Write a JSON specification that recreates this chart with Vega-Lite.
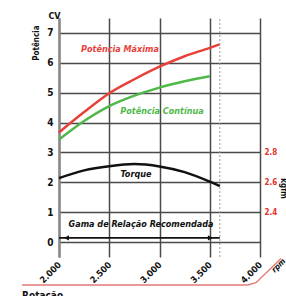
{
  "$schema": "https://vega.github.io/schema/vega-lite/v6.json",
  "width": 201,
  "height": 239,
  "autosize": "none",
  "padding": {"left": 59, "top": 18, "right": 26, "bottom": 39},
  "background": "white",
  "config": {"view": {"stroke": null}, "font": "DejaVu Sans Condensed"},
  "datasets": {
    "power": [
      {"rpm": 2000, "cv": 3.67, "serie": "Potência Máxima"},
      {"rpm": 2250, "cv": 4.35, "serie": "Potência Máxima"},
      {"rpm": 2500, "cv": 4.98, "serie": "Potência Máxima"},
      {"rpm": 2750, "cv": 5.45, "serie": "Potência Máxima"},
      {"rpm": 3000, "cv": 5.87, "serie": "Potência Máxima"},
      {"rpm": 3250, "cv": 6.22, "serie": "Potência Máxima"},
      {"rpm": 3500, "cv": 6.5, "serie": "Potência Máxima"},
      {"rpm": 3600, "cv": 6.62, "serie": "Potência Máxima"},
      {"rpm": 2000, "cv": 3.43, "serie": "Potência Contínua"},
      {"rpm": 2250, "cv": 4.05, "serie": "Potência Contínua"},
      {"rpm": 2500, "cv": 4.55, "serie": "Potência Contínua"},
      {"rpm": 2750, "cv": 4.9, "serie": "Potência Contínua"},
      {"rpm": 3000, "cv": 5.17, "serie": "Potência Contínua"},
      {"rpm": 3250, "cv": 5.38, "serie": "Potência Contínua"},
      {"rpm": 3500, "cv": 5.55, "serie": "Potência Contínua"}
    ],
    "torque": [
      {"rpm": 2000, "t": 2.628},
      {"rpm": 2250, "t": 2.68},
      {"rpm": 2500, "t": 2.708},
      {"rpm": 2750, "t": 2.722},
      {"rpm": 3000, "t": 2.706},
      {"rpm": 3250, "t": 2.668},
      {"rpm": 3500, "t": 2.604},
      {"rpm": 3600, "t": 2.574}
    ],
    "labels": [
      {"rpm": 2607, "cv": 6.46, "text": "Potência Máxima", "color": "#e8413a", "angle": 0, "size": 9},
      {"rpm": 3025, "cv": 4.39, "text": "Potência Contínua", "color": "#4fb848", "angle": 0, "size": 9},
      {"rpm": 2766, "cv": 2.28, "text": "Torque", "color": "#111111", "angle": 0, "size": 9},
      {"rpm": 2816, "cv": 0.6, "text": "Gama de Relação Recomendada", "color": "#111111", "angle": 0, "size": 9},
      {"rpm": 4189, "cv": -0.8, "text": "rpm", "color": "#111111", "angle": 315, "size": 8}
    ],
    "side": [
      {"rpm": 1781, "cv": 6.66, "text": "Potência"}
    ],
    "bottom": [
      {"rpm": 1632, "cv": -1.64, "text": "Rotação"}
    ],
    "limit": [
      {"rpm": 3600, "cv": -0.5, "cv2": 7.5}
    ],
    "arrow": [
      {"rpm": 2000, "rpm2": 3600, "cv": 0.14}
    ],
    "heads": [
      {"rpm": 2075, "cv": 0.14, "shape": "triangle-left"},
      {"rpm": 3505, "cv": 0.14, "shape": "triangle-right"}
    ],
    "deco": [
      {"rpm": 1632, "cv": -1.44, "o": 1},
      {"rpm": 3880, "cv": -1.44, "o": 2},
      {"rpm": 3960, "cv": -1.36, "o": 3},
      {"rpm": 4210, "cv": -0.55, "o": 4}
    ]
  },
  "layer": [
    {
      "encoding": {
        "x": {
          "field": "rpm", "type": "quantitative",
          "scale": {"domain": [2000, 4000], "nice": false, "zero": false},
          "axis": {
            "values": [2000, 2500, 3000, 3500, 4000],
            "grid": true, "gridColor": "#4a4a4a", "gridWidth": 1.5,
            "domain": false, "ticks": false, "labelOverlap": false,
            "labelAngle": -45, "labelAlign": "right", "labelBaseline": "middle",
            "labelFontWeight": "bold", "labelFontSize": 9, "labelPadding": 6, "labelColor": "#111",
            "labelExpr": "replace(format(datum.value, ',d'), ',', '.')",
            "title": null
          }
        },
        "y": {
          "field": "cv", "type": "quantitative",
          "scale": {"domain": [-0.5, 7.5], "nice": false, "zero": false},
          "axis": {
            "values": [0, 1, 2, 3, 4, 5, 6, 7],
            "labelOverlap": false,
            "grid": true, "gridColor": "#4a4a4a", "gridWidth": 1.5,
            "domainColor": "#8a8a8a", "domainWidth": 2.5, "ticks": false,
            "labelFontWeight": "bold", "labelFontSize": 10, "labelPadding": 6, "labelColor": "#111",
            "title": "CV", "titleAngle": 0, "titleAlign": "center", "titleBaseline": "middle",
            "titleX": -5, "titleY": -3, "titleFontSize": 9, "titleFontWeight": "bold", "titleColor": "#111"
          }
        }
      },
      "layer": [
        {
          "data": {"name": "power"},
          "mark": {"type": "line", "strokeWidth": 2.5, "clip": false, "interpolate": "monotone"},
          "encoding": {
            "color": {
              "field": "serie", "type": "nominal",
              "scale": {"domain": ["Potência Máxima", "Potência Contínua"], "range": ["#e8413a", "#4fb848"]},
              "legend": null
            }
          }
        },
        {
          "data": {"name": "limit"},
          "mark": {"type": "rule", "color": "#9a9a9a", "strokeDash": [2, 2], "strokeWidth": 1},
          "encoding": {"y2": {"field": "cv2"}}
        },
        {
          "data": {"name": "arrow"},
          "mark": {"type": "rule", "color": "#111", "strokeWidth": 1.8},
          "encoding": {"x2": {"field": "rpm2"}}
        },
        {
          "data": {"name": "heads"},
          "mark": {"type": "point", "filled": true, "color": "#111", "opacity": 1, "size": 30},
          "encoding": {
            "shape": {"field": "shape", "type": "nominal", "scale": null}
          }
        },
        {
          "data": {"name": "deco"},
          "mark": {"type": "line", "color": "#e57a7a", "strokeWidth": 1.5, "clip": false},
          "encoding": {
            "order": {"field": "o", "type": "quantitative"}
          }
        },
        {
          "data": {"name": "labels"},
          "mark": {"type": "text", "fontWeight": "bold", "fontStyle": "italic", "clip": false, "align": "center", "baseline": "middle"},
          "encoding": {
            "text": {"field": "text"},
            "color": {"field": "color", "type": "nominal", "scale": null},
            "angle": {"field": "angle", "type": "quantitative", "scale": null},
            "size": {"field": "size", "type": "quantitative", "scale": null}
          }
        },
        {
          "data": {"name": "side"},
          "mark": {"type": "text", "fontWeight": "bold", "fontSize": 8, "color": "#111", "angle": 270, "clip": false, "align": "center", "baseline": "middle"},
          "encoding": {
            "text": {"field": "text"}
          }
        },
        {
          "data": {"name": "bottom"},
          "mark": {"type": "text", "fontWeight": "bold", "fontSize": 10, "color": "#111", "clip": false, "align": "left", "baseline": "top"},
          "encoding": {
            "text": {"field": "text"}
          }
        }
      ]
    },
    {
      "data": {"name": "torque"},
      "mark": {"type": "line", "strokeWidth": 2.5, "color": "#111", "interpolate": "monotone"},
      "encoding": {
        "x": {"field": "rpm", "type": "quantitative"},
        "y": {
          "field": "t", "type": "quantitative",
          "scale": {"domain": [2.1, 3.7], "nice": false, "zero": false},
          "axis": {
            "orient": "right",
            "values": [2.4, 2.6, 2.8],
            "format": ".1f",
            "grid": false, "domain": false, "ticks": false,
            "labelColor": "#e5322d", "labelFontWeight": "bold", "labelFontSize": 8, "labelPadding": 4,
            "title": "kgfm", "titleColor": "#111", "titleFontSize": 8, "titleFontWeight": "bold",
            "titleAngle": 90, "titleY": 170, "titlePadding": 2
          }
        }
      }
    }
  ],
  "resolve": {"scale": {"y": "independent"}}
}
